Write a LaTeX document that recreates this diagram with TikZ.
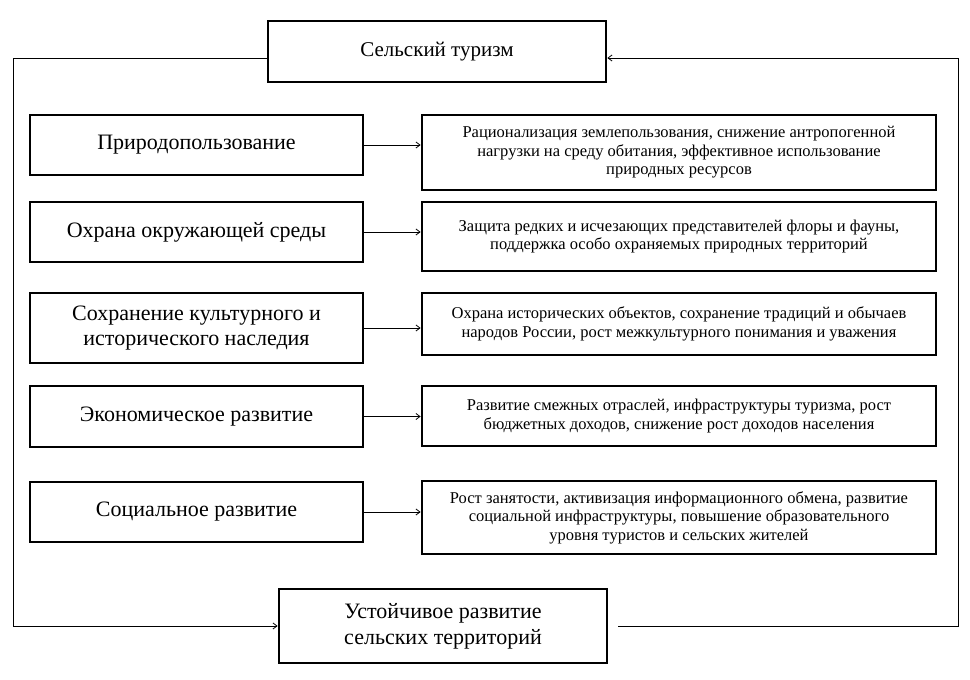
\documentclass[tikz,border=0pt]{standalone}
\usepackage{fontspec}
\setmainfont{Liberation Serif}
\usetikzlibrary{arrows.meta}
\begin{document}
\begin{tikzpicture}[x=1pt,y=-1pt,
  bigbox/.style={draw=black,line width=2.8pt,fill=white,inner sep=0pt,align=center,font=\fontsize{22}{25.5}\selectfont},
  leftbox/.style={bigbox,minimum width=333pt},
  rightbox/.style={draw=black,line width=2.8pt,fill=white,inner sep=0pt,align=center,minimum width=514pt,font=\fontsize{16.5}{18.5}\selectfont},
  conn/.style={draw=black,line width=0.8pt},
  arr/.style={conn,-{Straight Barb[length=4pt,width=6pt]}}]
\useasboundingbox (0,0) rectangle (970,680);
\fill[white] (0,0) rectangle (970,680);

\node[bigbox,minimum width=338pt,minimum height=61pt,font=\fontsize{21}{25}\selectfont] (top) at (437,51.5) {Сельский туризм};
\node[bigbox,minimum width=328pt,minimum height=74pt,font=\fontsize{22}{26}\selectfont] (bot) at (443,626) {Устойчивое развитие\\сельских территорий};

\node[leftbox,minimum height=60pt] (l1) at (196.5,145) {Природопользование};
\node[leftbox,minimum height=60pt] (l2) at (196.5,232) {Охрана окружающей среды};
\node[leftbox,minimum height=70pt] (l3) at (196.5,328) {Сохранение культурного и\\исторического наследия};
\node[leftbox,minimum height=61pt] (l4) at (196.5,416.5) {Экономическое развитие};
\node[leftbox,minimum height=60pt] (l5) at (196.5,512) {Социальное развитие};

\node[rightbox,minimum height=75pt] (r1) at (679,152.5) {Рационализация землепользования, снижение антропогенной\\нагрузки на среду обитания, эффективное использование\\природных ресурсов};
\node[rightbox,minimum height=69pt] (r2) at (679,236.5) {Защита редких и исчезающих представителей флоры и фауны,\\поддержка особо охраняемых природных территорий};
\node[rightbox,minimum height=62pt] (r3) at (679,324) {Охрана исторических объектов, сохранение традиций и обычаев\\народов России, рост межкультурного понимания и уважения};
\node[rightbox,minimum height=60pt] (r4) at (679,416) {Развитие смежных отраслей, инфраструктуры туризма, рост\\бюджетных доходов, снижение рост доходов населения};
\node[rightbox,minimum height=73pt] (r5) at (679,517.5) {Рост занятости, активизация информационного обмена, развитие\\социальной инфраструктуры, повышение образовательного\\уровня туристов и сельских жителей};

\foreach \i in {1,...,5}{
  \draw[arr] (l\i.east) -- (l\i.east -| r\i.west);
}

\coordinate (tl) at (13,58);
\coordinate (tr) at (958,58);
\draw[arr] (top.west |- tl) -- (tl) |- (bot.west);
\draw[arr] ([xshift=10pt]bot.east) -| (tr) -- (top.east |- tr);
\end{tikzpicture}
\end{document}
